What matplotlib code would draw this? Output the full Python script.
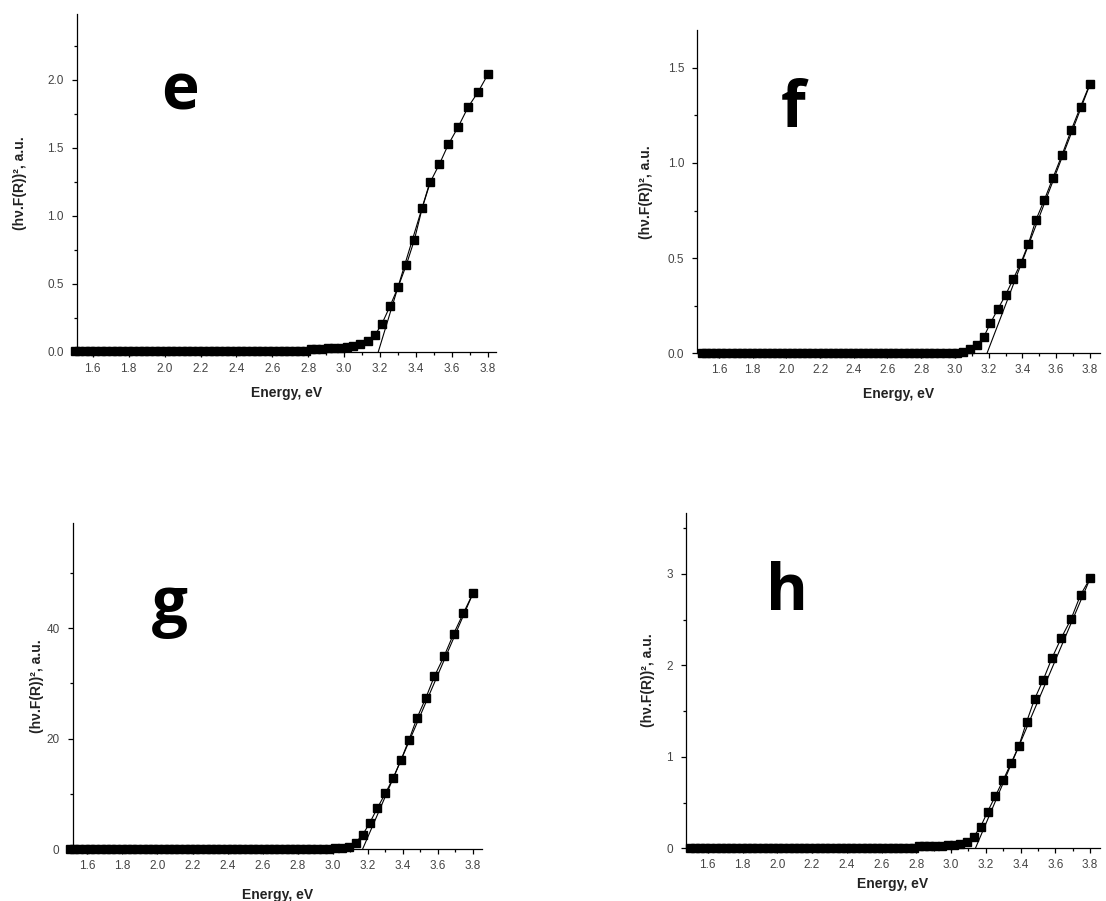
import numpy as np
import matplotlib
matplotlib.use("Agg")
import matplotlib.pyplot as plt
from matplotlib.ticker import MultipleLocator

# photon energies of the points on the absorption edge (eV)
energy_edge = [3.80, 3.745, 3.69, 3.635, 3.58, 3.53, 3.48, 3.435, 3.39, 3.345,
               3.30, 3.255, 3.21, 3.17, 3.13, 3.09, 3.05, 3.015, 2.98, 2.945,
               2.91, 2.875, 2.845, 2.815]
# below the edge the points pile up into a flat band
energy_flat = [2.785, 2.755, 2.725, 2.695, 2.665, 2.635, 2.605, 2.575, 2.545,
               2.515, 2.485, 2.455, 2.425, 2.395, 2.365, 2.335, 2.305, 2.275,
               2.245, 2.215, 2.185, 2.155, 2.125, 2.095, 2.065, 2.035, 2.005,
               1.975, 1.945, 1.915, 1.885, 1.855, 1.825, 1.795, 1.765, 1.735,
               1.705, 1.675, 1.645, 1.615, 1.585, 1.555, 1.525, 1.50]

# (hv.F(R))^2 on the edge, one list per sample
edge_e = [2.04, 1.91, 1.80, 1.655, 1.525, 1.38, 1.25, 1.06, 0.82, 0.635,
          0.475, 0.335, 0.205, 0.12, 0.08, 0.055, 0.04, 0.032, 0.028, 0.025,
          0.024, 0.022, 0.02, 0.018]
edge_f = [1.414, 1.296, 1.173, 1.042, 0.919, 0.805, 0.70, 0.573, 0.473, 0.389,
          0.306, 0.233, 0.158, 0.084, 0.044, 0.021, 0.009, 0.004, 0.002, 0.001,
          0.0, 0.0, 0.0, 0.0]
edge_g = [46.3, 42.7, 39.0, 34.9, 31.3, 27.3, 23.7, 19.8, 16.2, 12.9,
          10.1, 7.5, 4.7, 2.6, 1.2, 0.5, 0.3, 0.2, 0.1, 0.1,
          0.05, 0.0, 0.0, 0.0]
edge_h = [2.953, 2.771, 2.505, 2.304, 2.078, 1.841, 1.630, 1.385, 1.119, 0.930,
          0.747, 0.572, 0.40, 0.236, 0.127, 0.072, 0.044, 0.035, 0.032, 0.03,
          0.03, 0.028, 0.027, 0.025]
# level of the flat band
base_e, base_f, base_g, base_h = 0.006, 0.0, 0.0, 0.008

# linear fits (Tauc extrapolation) as end points
fit_x_e, fit_y_e = [3.19, 3.48], [0.0, 1.26]
fit_x_f, fit_y_f = [3.19, 3.80], [0.0, 1.41]
fit_x_g, fit_y_g = [3.17, 3.80], [0.0, 46.3]
fit_x_h, fit_y_h = [3.14, 3.80], [0.0, 2.95]

letters = ["e", "f", "g", "h"]
xlabel = "Energy, eV"
ylabel = "(h\u03bd.F(R))\u00b2, a.u."

panels = [
    # rect, xlim, ylim, major, minor, ylabel x, xlabel y, letter pos (px)
    dict(edge=edge_e, base=base_e, fx=fit_x_e, fy=fit_y_e,
         rect=[0.0696, 0.6097, 0.379, 0.3745], xlim=(1.512, 3.846), ylim=(0, 2.483),
         major=0.5, minor=0.25, ylx=-0.136, xly=-0.102, lpos=(180, 110)),
    dict(edge=edge_f, base=base_f, fx=fit_x_f, fy=fit_y_f,
         rect=[0.6305, 0.6078, 0.364, 0.3588], xlim=(1.472, 3.86), ylim=(0, 1.698),
         major=0.5, minor=0.25, ylx=-0.127, xly=-0.104, lpos=(793, 127)),
    dict(edge=edge_g, base=base_g, fx=fit_x_g, fy=fit_y_g,
         rect=[0.0657, 0.0574, 0.370, 0.3625], xlim=(1.516, 3.851), ylim=(0, 59.1),
         major=20, minor=10, ylx=-0.087, xly=-0.118, lpos=(170, 623)),
    dict(edge=edge_h, base=base_h, fx=fit_x_h, fy=fit_y_h,
         rect=[0.6203, 0.0585, 0.3743, 0.3725], xlim=(1.475, 3.857), ylim=(0, 3.67),
         major=1, minor=0.5, ylx=-0.093, xly=-0.085, lpos=(787, 610)),
]

plt.rcParams['font.family'] = ['Liberation Sans', 'DejaVu Sans']

W, H = 1106, 901
fig = plt.figure(figsize=(W / 100, H / 100), dpi=100)

for letter, p in zip(letters, panels):
    ax = fig.add_axes(p['rect'])
    x = np.concatenate([energy_edge, energy_flat])
    y = np.concatenate([p['edge'], np.full(len(energy_flat), p['base'])])

    ax.plot(p['fx'], p['fy'], color='black', lw=0.8, zorder=2)
    ax.plot(x, y, color='black', lw=0.8, marker='s', ms=5.5, mec='black',
            mfc='black', clip_on=False, zorder=3)

    ax.set_xlim(*p['xlim'])
    ax.set_ylim(*p['ylim'])
    ax.xaxis.set_major_locator(MultipleLocator(0.2))
    ax.xaxis.set_minor_locator(MultipleLocator(0.1))
    ax.yaxis.set_major_locator(MultipleLocator(p['major']))
    ax.yaxis.set_minor_locator(MultipleLocator(p['minor']))

    for side in ['top', 'right']:
        ax.spines[side].set_visible(False)
    for side in ['left', 'bottom']:
        ax.spines[side].set_linewidth(0.9)

    ax.tick_params(which='both', direction='out', width=0.9, labelsize=8.5,
                   labelcolor='#444444')
    ax.tick_params(which='major', length=3.5)
    ax.tick_params(which='minor', length=2)
    ax.tick_params(axis='y', pad=6)
    ax.tick_params(axis='x', pad=4.5)

    ax.set_xlabel(xlabel, fontsize=10, fontweight='bold', color='#222222')
    ax.set_ylabel(ylabel, fontsize=10, fontweight='bold', color='#222222')
    ax.xaxis.set_label_coords(0.5, p['xly'])
    ax.yaxis.set_label_coords(p['ylx'], 0.5)
    ax.xaxis.label.set_va('top')
    ax.yaxis.label.set_va('center')

    lx, ly = p['lpos']
    fig.text(lx / W, 1 - ly / H, letter, ha='center', va='baseline',
             fontsize=46, fontweight='bold', family=['Open Sans', 'DejaVu Sans'])

fig.savefig("out.png", dpi=100)
